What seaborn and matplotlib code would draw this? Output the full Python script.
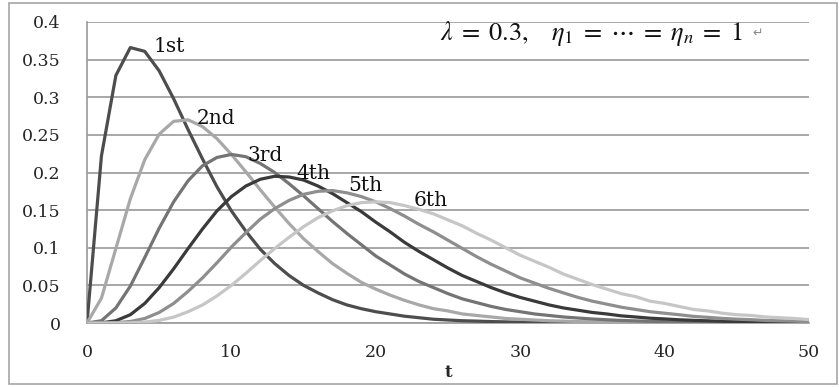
import matplotlib
matplotlib.use("Agg")
import matplotlib.pyplot as plt
import seaborn as sns
import pandas as pd
from matplotlib.patches import Rectangle

t_values = list(range(0, 51))
series_names = ["1st", "2nd", "3rd", "4th", "5th", "6th"]

s1 = [0, 0.222, 0.329, 0.366, 0.361, 0.335, 0.298, 0.257, 0.218, 0.181, 0.149,
      0.122, 0.098, 0.079, 0.063, 0.050, 0.040, 0.031, 0.024, 0.019, 0.015,
      0.012, 0.009, 0.007, 0.005, 0.004, 0.003, 0.0025, 0.0019, 0.0015, 0.0011,
      0.0009, 0.0006, 0.0005, 0.0004, 0.0003, 0.0002, 0.0002, 0.0001, 0.0001, 0.0001,
      0, 0, 0, 0, 0, 0, 0, 0, 0, 0]
s2 = [0, 0.033, 0.099, 0.165, 0.217, 0.251, 0.268, 0.270, 0.261, 0.245, 0.224,
      0.201, 0.177, 0.154, 0.132, 0.112, 0.095, 0.079, 0.066, 0.054, 0.045,
      0.037, 0.030, 0.024, 0.019, 0.016, 0.012, 0.010, 0.008, 0.006, 0.005,
      0.004, 0.003, 0.0025, 0.0019, 0.0015, 0.0012, 0.0009, 0.0007, 0.0006, 0.0004,
      0.0003, 0.0002, 0.0002, 0.0001, 0.0001, 0.0001, 0.0001, 0, 0, 0]
s3 = [0, 0.003, 0.020, 0.049, 0.087, 0.126, 0.161, 0.189, 0.209, 0.220, 0.224,
      0.221, 0.212, 0.200, 0.185, 0.169, 0.152, 0.135, 0.119, 0.104, 0.089,
      0.077, 0.065, 0.055, 0.047, 0.039, 0.032, 0.027, 0.022, 0.018, 0.015,
      0.012, 0.010, 0.008, 0.0066, 0.0053, 0.0043, 0.0034, 0.0028, 0.0022, 0.0018,
      0.0014, 0.0011, 0.0009, 0.0007, 0.0006, 0.0005, 0.0004, 0.0003, 0.0002, 0.0002]
s4 = [0, 0.0002, 0.003, 0.011, 0.026, 0.047, 0.072, 0.099, 0.125, 0.149, 0.168,
      0.182, 0.191, 0.195, 0.194, 0.190, 0.182, 0.172, 0.160, 0.148, 0.134,
      0.121, 0.107, 0.095, 0.084, 0.073, 0.063, 0.055, 0.047, 0.040, 0.034,
      0.029, 0.024, 0.020, 0.017, 0.014, 0.012, 0.0095, 0.0080, 0.0064, 0.0054,
      0.0043, 0.0035, 0.0029, 0.0023, 0.0019, 0.0016, 0.0012, 0.0010, 0.0008, 0.0006]
s5 = [0, 0, 0.0004, 0.002, 0.006, 0.014, 0.026, 0.042, 0.060, 0.080, 0.101,
      0.120, 0.138, 0.152, 0.163, 0.171, 0.175, 0.176, 0.173, 0.168, 0.161,
      0.152, 0.142, 0.131, 0.121, 0.110, 0.099, 0.088, 0.078, 0.069, 0.060,
      0.053, 0.046, 0.040, 0.034, 0.029, 0.025, 0.021, 0.018, 0.015, 0.013,
      0.011, 0.0088, 0.0075, 0.0061, 0.0051, 0.0044, 0.0034, 0.0029, 0.0024, 0.0018]
s6 = [0, 0, 0, 0.0003, 0.0012, 0.0035, 0.0078, 0.015, 0.024, 0.036, 0.050,
      0.066, 0.083, 0.099, 0.114, 0.128, 0.140, 0.149, 0.156, 0.160, 0.161,
      0.160, 0.156, 0.151, 0.145, 0.137, 0.129, 0.119, 0.110, 0.100, 0.090,
      0.082, 0.074, 0.065, 0.058, 0.051, 0.045, 0.039, 0.035, 0.029, 0.026,
      0.022, 0.018, 0.016, 0.013, 0.011, 0.010, 0.008, 0.007, 0.006, 0.0045]

y_ticks = [0, 0.05, 0.1, 0.15, 0.2, 0.25, 0.3, 0.35, 0.4]
y_tick_labels = ["0", "0.05", "0.1", "0.15", "0.2", "0.25", "0.3", "0.35", "0.4"]
x_ticks = [0, 10, 20, 30, 40, 50]
x_tick_labels = ["0", "10", "20", "30", "40", "50"]

# label anchor positions (data coords, left/center)
label_t = [4.6, 7.6, 11.1, 14.5, 18.1, 22.6]
label_v = [0.367, 0.272, 0.223, 0.199, 0.183, 0.163]

colors = ["#4d4d4d", "#a8a8a8", "#747474", "#3a3a3a", "#8e8e8e", "#c6c6c6"]

all_series = [s1, s2, s3, s4, s5, s6]
rows = []
for name, vals in zip(series_names, all_series):
    for t, v in zip(t_values, vals):
        rows.append({"t": t, "value": v, "series": name})
df = pd.DataFrame(rows)

sns.set_style("white")
plt.rcParams["mathtext.fontset"] = "stix"

fig = plt.figure(figsize=(8.39, 3.87), dpi=100)
ax = fig.add_axes([87 / 839, 1 - 323 / 387, (809 - 87) / 839, (323 - 22) / 387])

# outer chart border
fig.patches.append(Rectangle((9 / 839, 3 / 387), (837 - 9) / 839, (384 - 3) / 387,
                             transform=fig.transFigure, fill=False,
                             edgecolor="#a6a6a6", linewidth=1.2, zorder=0))

sns.lineplot(data=df, x="t", y="value", hue="series", hue_order=series_names,
             palette=dict(zip(series_names, colors)), linewidth=2.3,
             legend=False, ax=ax, zorder=3)

ax.set_xlim(0, 50)
ax.set_ylim(0, 0.4)
ax.set_yticks(y_ticks)
ax.set_yticklabels(y_tick_labels, fontfamily="DejaVu Serif", fontsize=12.5)
ax.set_xticks(x_ticks)
ax.set_xticklabels(x_tick_labels, fontfamily="DejaVu Serif", fontsize=12.5)
ax.tick_params(axis="y", length=0, pad=19)
ax.tick_params(axis="x", length=0, pad=15)

ax.yaxis.grid(True, color="#a0a0a0", linewidth=1.3, zorder=0)
ax.xaxis.grid(False)
for side in ["top", "right"]:
    ax.spines[side].set_visible(False)
ax.spines["left"].set_color("#a0a0a0")
ax.spines["left"].set_linewidth(1.3)
ax.spines["bottom"].set_color("#a0a0a0")
ax.spines["bottom"].set_linewidth(1.3)

ax.set_xlabel("t", fontfamily="DejaVu Serif", fontweight="bold", fontsize=12, labelpad=2)
ax.set_ylabel("")

for name, lt, lv in zip(series_names, label_t, label_v):
    ax.text(lt, lv, name, ha="left", va="center", fontfamily="DejaVu Serif",
            fontsize=14.5, color="#111111", zorder=5)

fig.text(440 / 839, 1 - 33 / 387,
         r"$\lambda\;=\;0.3,\quad \eta_1\;=\;\cdots\;=\;\eta_n\;=\;1$",
         ha="left", va="center", fontsize=19, color="#111111")
fig.text(752 / 839, 1 - 33 / 387, "\u21b5", ha="left", va="center",
         fontsize=9, color="#888888", fontfamily="DejaVu Sans")

fig.savefig("out.png", dpi=100)
